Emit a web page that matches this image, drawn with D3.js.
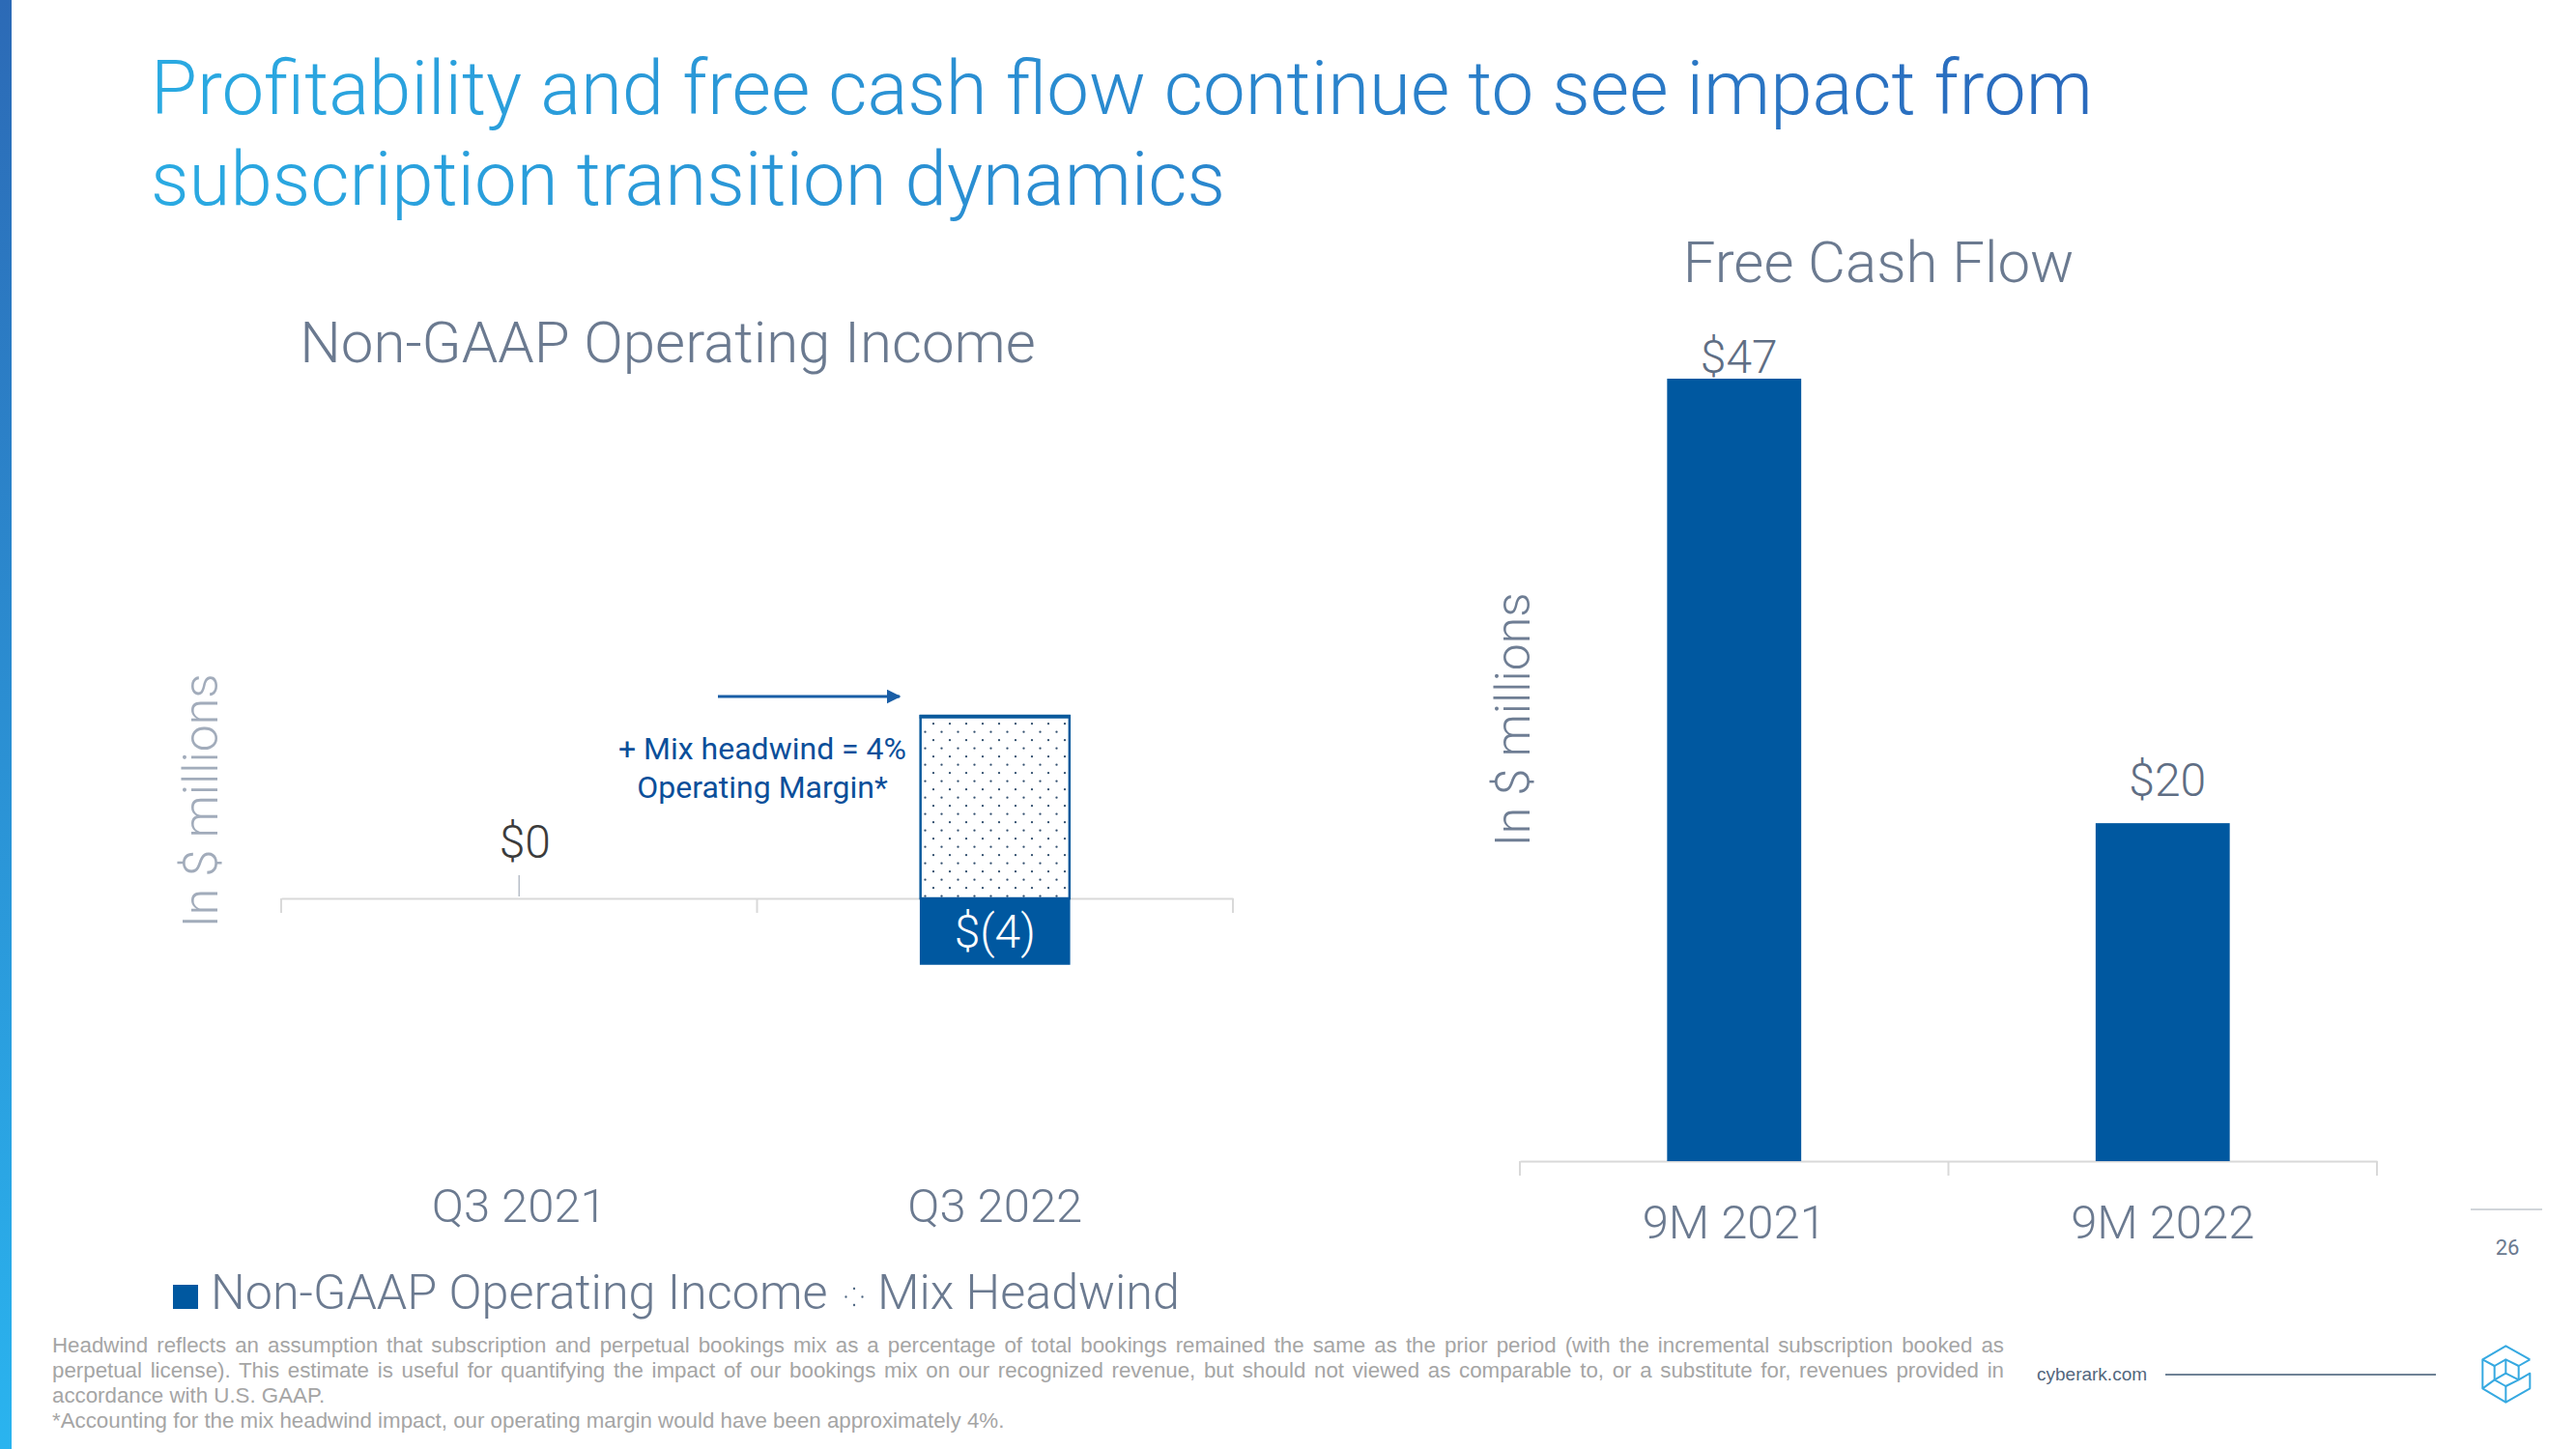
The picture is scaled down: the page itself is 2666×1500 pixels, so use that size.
<!DOCTYPE html>
<html><head><meta charset="utf-8">
<script src="https://cdn.jsdelivr.net/npm/d3@7"></script>
<style>
html,body{margin:0;padding:0;background:#fff;}
svg{display:block;}
</style></head>
<body>
<svg id="chart" width="2666" height="1500"></svg>
<script>
// ---------- DATA ----------
const titleLines = ["Profitability and free cash flow continue to see impact from", "subscription transition dynamics"];
const oiTitle = "Non-GAAP Operating Income";
const fcfTitle = "Free Cash Flow";
const yAxisTitle = "In $ millions";
const oiCategories = ["Q3 2021", "Q3 2022"];
const oiValues = [0, -4];
const headwindValues = [0, 11.1];
const oiLabels = ["$0", "$(4)"];
const fcfCategories = ["9M 2021", "9M 2022"];
const fcfValues = [47, 20.3];
const fcfLabels = ["$47", "$20"];
const legendItems = ["Non-GAAP Operating Income", "Mix Headwind"];
const annotationLines = ["+ Mix headwind = 4%", "Operating Margin*"];
const footnoteLines = [
  "Headwind reflects an assumption that subscription and perpetual bookings mix as a percentage of total bookings remained the same as the prior period (with the incremental subscription booked as",
  "perpetual license). This estimate is useful for quantifying the impact of our bookings mix on our recognized revenue, but should not viewed as comparable to, or a substitute for, revenues provided in",
  "accordance with U.S. GAAP.",
  "*Accounting for the mix headwind impact, our operating margin would have been approximately 4%."
];
const pageNumber = "26";
const siteText = "cyberark.com";

// ---------- STYLE / LAYOUT ----------
const BLUE = "#0058a0";
const SLATE = "#6b7a90";
const FONT = "Roboto, 'Noto Sans', sans-serif";
const ARIAL = "'Liberation Sans', Arial, sans-serif";
const barFrac = 0.313;
const fcfLabelGap = [6, 28];
const axisFont = 49;

const svg = d3.select("#chart");
const defs = svg.append("defs");

// gradients
const sg = defs.append("linearGradient").attr("id", "stripe").attr("x1", 0).attr("y1", 0).attr("x2", 0).attr("y2", 1);
sg.append("stop").attr("offset", 0).attr("stop-color", "#2c6ab6");
sg.append("stop").attr("offset", 1).attr("stop-color", "#2ab4ef");
const tg = defs.append("linearGradient").attr("id", "titleGrad").attr("gradientUnits", "userSpaceOnUse")
  .attr("x1", 156).attr("y1", 0).attr("x2", 2164).attr("y2", 0);
tg.append("stop").attr("offset", 0).attr("stop-color", "#2aaae2");
tg.append("stop").attr("offset", 1).attr("stop-color", "#2a6abd");

// dot patterns
function dotPattern(id, tx, ty) {
  const p = defs.append("pattern").attr("id", id).attr("patternUnits", "userSpaceOnUse")
    .attr("width", 17).attr("height", 17).attr("patternTransform", `translate(${tx},${ty})`);
  p.append("rect").attr("width", 17).attr("height", 17).attr("fill", "#fff");
  p.append("circle").attr("cx", 14).attr("cy", 1.2).attr("r", 1.15).attr("fill", "#33506f");
  p.append("circle").attr("cx", 5.5).attr("cy", 9.7).attr("r", 1.15).attr("fill", "#33506f");
}
dotPattern("dots", 0, 0);
dotPattern("dotsLegend", 3, 6.8);

// background + stripe
svg.append("rect").attr("width", 2666).attr("height", 1500).attr("fill", "#fff");
svg.append("rect").attr("x", 0).attr("y", 0).attr("width", 12).attr("height", 1500).attr("fill", "url(#stripe)");

// title
svg.append("g").selectAll("text").data(titleLines).join("text")
  .attr("x", 156).attr("y", (d, i) => 118 + i * 94)
  .attr("font-family", FONT).attr("font-weight", 300).attr("font-size", 78)
  .attr("fill", "url(#titleGrad)").text(d => d);

// ---------- scales ----------
const xOI = d3.scaleBand().domain(oiCategories).range([291, 1276]);
const yOI = d3.scaleLinear().domain([-4, 11]).range([998, 743]);
const xFCF = d3.scaleBand().domain(fcfCategories).range([1573, 2460]);
const yFCF = d3.scaleLinear().domain([0, 47]).range([1202, 392]);

function drawAxis(x, y0, labelBaseline) {
  const g = svg.append("g").attr("transform", `translate(0,${y0})`);
  g.call(d3.axisBottom(x).tickSize(0).tickSizeOuter(0).tickPadding(labelBaseline - y0 - axisFont * 0.71));
  g.select(".domain").attr("stroke", "#d9d9d9").attr("stroke-width", 2);
  g.selectAll(".tick text").attr("font-size", axisFont).attr("font-family", FONT)
    .attr("font-weight", 300).attr("fill", SLATE);
  const bounds = x.domain().map(d => x(d)).concat([x.range()[1]]);
  g.selectAll("line.bound").data(bounds).join("line").attr("class", "bound")
    .attr("x1", d => d).attr("x2", d => d).attr("y1", 0).attr("y2", 15)
    .attr("stroke", "#d9d9d9").attr("stroke-width", 2);
}

function yTitle(x, y, color) {
  svg.append("text").attr("transform", `translate(${x},${y}) rotate(-90)`)
    .attr("text-anchor", "middle").attr("font-family", FONT).attr("font-weight", 300)
    .attr("font-size", 50).attr("fill", color).text(yAxisTitle);
}

// ---------- LEFT CHART: Non-GAAP Operating Income ----------
svg.append("text").attr("x", 691).attr("y", 375).attr("text-anchor", "middle")
  .attr("font-family", FONT).attr("font-weight", 300).attr("font-size", 60).attr("fill", SLATE).text(oiTitle);
yTitle(225, 829, "#a2acbb");
drawAxis(xOI, yOI(0), 1265);

const oiData = oiCategories.map((c, i) => ({ c, v: oiValues[i], h: headwindValues[i], label: oiLabels[i] }));
const bw1 = xOI.bandwidth() * barFrac;
const cx1 = d => xOI(d.c) + xOI.bandwidth() / 2;

// headwind (stacked above zero)
svg.append("g").selectAll("rect").data(oiData.filter(d => d.h > 0)).join("rect")
  .attr("x", d => cx1(d) - bw1 / 2).attr("width", bw1)
  .attr("y", d => yOI(Math.max(0, d.v) + d.h))
  .attr("height", d => yOI(Math.max(0, d.v)) - yOI(Math.max(0, d.v) + d.h))
  .attr("fill", "url(#dots)").attr("stroke", "#0b5a9c").attr("stroke-width", 2.5);
svg.append("g").selectAll("line").data(oiData.filter(d => d.h > 0)).join("line")
  .attr("x1", d => cx1(d) - bw1 / 2 - 1).attr("x2", d => cx1(d) + bw1 / 2 + 1)
  .attr("y1", d => yOI(Math.max(0, d.v) + d.h) + 0.5).attr("y2", d => yOI(Math.max(0, d.v) + d.h) + 0.5)
  .attr("stroke", "#0b5a9c").attr("stroke-width", 4);

// operating income bars
svg.append("g").selectAll("rect").data(oiData).join("rect")
  .attr("x", d => cx1(d) - bw1 / 2).attr("width", bw1)
  .attr("y", d => Math.min(yOI(0), yOI(d.v)))
  .attr("height", d => Math.abs(yOI(d.v) - yOI(0)))
  .attr("fill", BLUE).attr("stroke", d => d.v === 0 ? "#3c6fb3" : BLUE).attr("stroke-width", 1.5);

// labels
oiData.forEach(d => {
  if (d.v < 0) {
    svg.append("text").attr("x", cx1(d)).attr("y", (yOI(0) + yOI(d.v)) / 2 + 17)
      .attr("text-anchor", "middle").attr("font-family", FONT).attr("font-weight", 300)
      .attr("font-size", 48).attr("fill", "#fff").text(d.label);
  } else {
    svg.append("line").attr("x1", cx1(d)).attr("x2", cx1(d))
      .attr("y1", yOI(d.v) - 24).attr("y2", yOI(d.v) - 2).attr("stroke", "#b7bec8").attr("stroke-width", 1.5);
    svg.append("text").attr("x", cx1(d) + 6).attr("y", yOI(d.v) - 42)
      .attr("text-anchor", "middle").attr("font-family", FONT).attr("font-weight", 300)
      .attr("font-size", 48).attr("fill", "#3c3c3c").text(d.label);
  }
});

// arrow + annotation
const mk = defs.append("marker").attr("id", "arrowHead").attr("viewBox", "0 0 10 10")
  .attr("refX", 9).attr("refY", 5).attr("markerWidth", 5).attr("markerHeight", 5)
  .attr("markerUnits", "strokeWidth").attr("orient", "auto");
mk.append("path").attr("d", "M0,0 L10,5 L0,10 Z").attr("fill", "#1a5ea6");
svg.append("line").attr("x1", 743).attr("x2", 931).attr("y1", 721).attr("y2", 721)
  .attr("stroke", "#1a5ea6").attr("stroke-width", 3).attr("marker-end", "url(#arrowHead)");
svg.append("g").selectAll("text").data(annotationLines).join("text")
  .attr("x", 789).attr("y", (d, i) => 786 + i * 40).attr("text-anchor", "middle")
  .attr("font-family", FONT).attr("font-weight", 400).attr("font-size", 32)
  .attr("fill", "#0b4f9a").text(d => d);

// legend
svg.append("rect").attr("x", 179).attr("y", 1330).attr("width", 26).attr("height", 25).attr("fill", BLUE);
svg.append("text").attr("x", 218).attr("y", 1355).attr("font-family", FONT).attr("font-weight", 300)
  .attr("font-size", 50.3).attr("fill", SLATE).text(legendItems[0]);
svg.append("rect").attr("x", 872).attr("y", 1330).attr("width", 24).attr("height", 25).attr("fill", "url(#dotsLegend)");
svg.append("text").attr("x", 908).attr("y", 1355).attr("font-family", FONT).attr("font-weight", 300)
  .attr("font-size", 50.3).attr("fill", SLATE).text(legendItems[1]);

// ---------- RIGHT CHART: Free Cash Flow ----------
svg.append("text").attr("x", 1944).attr("y", 292).attr("text-anchor", "middle")
  .attr("font-family", FONT).attr("font-weight", 300).attr("font-size", 60).attr("fill", SLATE).text(fcfTitle);
yTitle(1583, 745, "#6f7e94");
drawAxis(xFCF, yFCF(0), 1282);

const fcfData = fcfCategories.map((c, i) => ({ c, v: fcfValues[i], label: fcfLabels[i], gap: fcfLabelGap[i] }));
const bw2 = xFCF.bandwidth() * barFrac;
const cx2 = d => xFCF(d.c) + xFCF.bandwidth() / 2;
svg.append("g").selectAll("rect").data(fcfData).join("rect")
  .attr("x", d => cx2(d) - bw2 / 2).attr("width", bw2)
  .attr("y", d => yFCF(d.v)).attr("height", d => yFCF(0) - yFCF(d.v))
  .attr("fill", BLUE);
svg.append("g").selectAll("text").data(fcfData).join("text")
  .attr("x", d => cx2(d) + 5).attr("y", d => yFCF(d.v) - d.gap).attr("text-anchor", "middle")
  .attr("font-family", FONT).attr("font-weight", 300).attr("font-size", 48)
  .attr("fill", "#5f6e84").text(d => d.label);

// ---------- footer ----------
svg.append("line").attr("x1", 2557).attr("x2", 2631).attr("y1", 1252).attr("y2", 1252)
  .attr("stroke", "#a3abb5").attr("stroke-width", 1.2);
svg.append("text").attr("x", 2595).attr("y", 1299).attr("text-anchor", "middle")
  .attr("font-family", FONT).attr("font-size", 22).attr("fill", SLATE).text(pageNumber);
svg.append("text").attr("x", 2108).attr("y", 1429).attr("font-family", ARIAL)
  .attr("font-size", 19).attr("fill", "#53677d").text(siteText);
svg.append("line").attr("x1", 2241).attr("x2", 2521).attr("y1", 1423).attr("y2", 1423)
  .attr("stroke", "#6f8296").attr("stroke-width", 2);

// logo
const logo = svg.append("g").attr("transform", "translate(2550,1380) scale(0.3333)")
  .attr("fill", "none").attr("stroke", "#36a9e1").attr("stroke-width", 6).attr("stroke-linejoin", "round");
["M205,82 L130,40 L58,82 L58,172 L130,215 L205,172 L205,125 L170,145",
 "M205,82 L170,102 L170,145",
 "M58,82 L95,102 L130,82 L170,102",
 "M95,102 L95,145 L130,165 L170,145",
 "M95,145 L130,125 L170,145",
 "M130,125 L130,82",
 "M130,165 L130,215",
 "M58,172 L95,145"].forEach(p => logo.append("path").attr("d", p));

// footnote
const fn = svg.append("g").selectAll("text").data(footnoteLines).join("text")
  .attr("x", 54).attr("y", (d, i) => 1400 + i * 26)
  .attr("font-family", ARIAL).attr("font-size", 22.3).attr("fill", "#a5a5a5").text(d => d);
function justify() {
  fn.each(function (d, i) {
    if (i > 1) return;
    const el = d3.select(this).attr("word-spacing", 0);
    const w = this.getComputedTextLength();
    const spaces = (d.match(/ /g) || []).length;
    el.attr("word-spacing", (2020 - w) / spaces);
  });
}
justify();
if (document.fonts && document.fonts.ready) document.fonts.ready.then(justify);
</script>
</body></html>
